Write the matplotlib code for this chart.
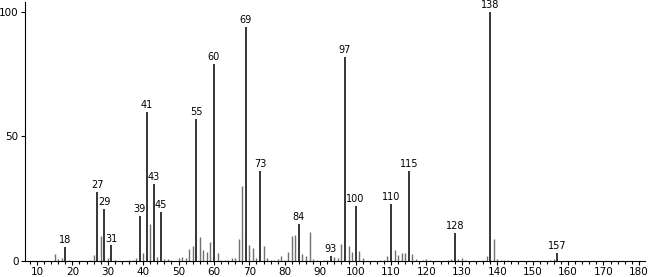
import matplotlib
matplotlib.use("Agg")
import matplotlib.pyplot as plt
from matplotlib.ticker import MultipleLocator

# m/z and relative intensity (%)
mz = [15, 16, 17, 18, 19, 25, 26, 27, 28, 29, 30, 31, 32, 36, 37, 38, 39, 40,
      41, 42, 43, 44, 45, 46, 47, 48, 50, 51, 52, 53, 54, 55, 56, 57, 58, 59,
      60, 61, 62, 63, 64, 65, 66, 67, 68, 69, 70, 71, 72, 73, 74, 75, 76, 77,
      78, 79, 80, 81, 82, 83, 84, 85, 86, 87, 88, 89, 91, 92, 93, 94, 95, 96,
      97, 98, 99, 100, 101, 102, 107, 108, 109, 110, 111, 112, 113, 114, 115,
      116, 117, 119, 120, 121, 126, 127, 128, 129, 130, 131, 136, 137, 138,
      139, 140, 141, 142, 143, 155, 156, 157]
intensity = [2.7, 0.7, 1.0, 5.6, 0.5, 0.5, 2.4, 27.8, 10.0, 21.0, 1.0, 6.2, 0.3,
             0.4, 0.4, 1.0, 18.0, 3.3, 59.7, 14.7, 31.0, 1.6, 19.8, 0.7, 0.8,
             0.4, 1.0, 1.6, 1.0, 4.7, 6.0, 57.0, 9.8, 4.4, 3.7, 7.8, 79.0, 3.1,
             0.4, 0.4, 0.5, 1.0, 1.0, 9.0, 30.0, 94.0, 6.4, 5.0, 1.0, 36.0, 5.9,
             1.0, 0.4, 0.5, 0.8, 2.0, 0.5, 3.7, 9.9, 10.4, 14.7, 2.7, 1.9, 11.6,
             0.8, 0.4, 0.4, 0.5, 1.9, 1.5, 1.0, 6.7, 81.7, 5.9, 3.6, 22.0, 4.0,
             1.0, 0.4, 0.5, 2.0, 22.8, 4.3, 2.4, 3.1, 3.2, 36.0, 2.7, 0.6, 0.4,
             0.6, 0.4, 0.5, 0.8, 11.1, 0.8, 1.0, 0.4, 0.4, 2.0, 100.0, 9.0, 0.6,
             0.4, 0.4, 0.4, 0.4, 0.6, 3.1]
labelled = [18, 27, 29, 31, 39, 41, 43, 45, 55, 60, 69, 73, 84, 93, 97, 100,
            110, 115, 128, 138, 157]

fig = plt.figure(figsize=(6.56, 2.77), dpi=100)
ax = fig.add_axes([0.038, 0.058, 0.945, 0.935])

for m, v in zip(mz, intensity):
    if m in labelled:
        ax.vlines(m, 0, v, color="black", linewidth=1.1)
        ax.text(m, v + 0.8, str(m), ha="center", va="bottom", fontsize=7)
    else:
        ax.vlines(m, 0, v, color="#707070", linewidth=1.0)

ax.set_xlim(6.6, 181.7)
ax.set_ylim(0, 104)
ax.xaxis.set_minor_locator(MultipleLocator(2))
ax.set_xticks(range(10, 181, 10))
ax.set_yticks([0, 50, 100])
ax.tick_params(axis="both", labelsize=7.5, length=3, width=0.8, pad=1.5)
ax.tick_params(axis="x", which="minor", length=2, width=0.8)
for s in ["top", "right"]:
    ax.spines[s].set_visible(False)
for s in ["left", "bottom"]:
    ax.spines[s].set_linewidth(0.8)

fig.savefig("out.png", dpi=100)
